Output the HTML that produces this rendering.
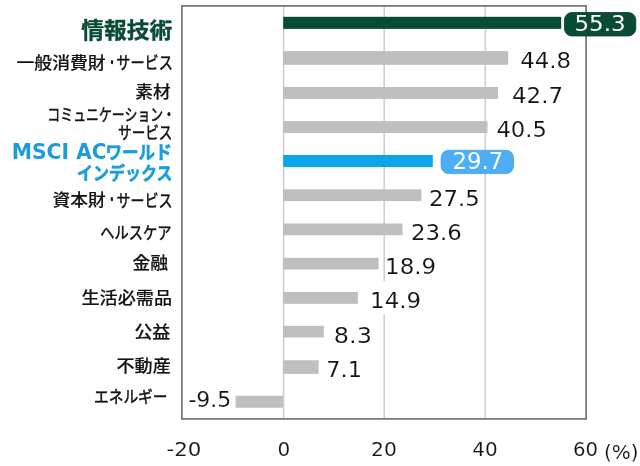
<!DOCTYPE html>
<html lang="ja">
<head>
<meta charset="utf-8">
<title>セクター別リターン</title>
<style>
html,body{margin:0;padding:0;background:#fff;}
body{width:640px;height:466px;overflow:hidden;}
svg{display:block;}
text{white-space:pre;}
</style>
</head>
<body>
<svg width="640" height="466" viewBox="0 0 640 466">
<rect x="0" y="0" width="640" height="466" fill="#ffffff"/>
<rect x="282.80" y="6" width="1.6" height="413" fill="#cfcfcf"/>
<rect x="383.40" y="6" width="1.6" height="413" fill="#cfcfcf"/>
<rect x="484.50" y="6" width="1.6" height="413" fill="#cfcfcf"/>
<rect x="283.20" y="16.80" width="278.00" height="12.10" fill="#0a4b38"/>
<rect x="283.20" y="51.10" width="225.00" height="13.70" fill="#bfbfbf"/>
<rect x="283.20" y="87.00" width="214.80" height="11.90" fill="#bfbfbf"/>
<rect x="283.20" y="121.10" width="204.30" height="11.90" fill="#bfbfbf"/>
<rect x="283.20" y="155.00" width="149.60" height="12.00" fill="#0ba6e8"/>
<rect x="283.20" y="189.30" width="138.20" height="11.80" fill="#bfbfbf"/>
<rect x="283.20" y="223.50" width="119.30" height="11.80" fill="#bfbfbf"/>
<rect x="283.20" y="257.80" width="95.40" height="11.70" fill="#bfbfbf"/>
<rect x="283.20" y="292.00" width="74.70" height="11.80" fill="#bfbfbf"/>
<rect x="283.20" y="325.80" width="40.60" height="11.70" fill="#bfbfbf"/>
<rect x="283.20" y="360.30" width="35.40" height="13.60" fill="#bfbfbf"/>
<rect x="235.50" y="395.70" width="47.50" height="12.00" fill="#bfbfbf"/>
<rect x="181.9" y="5.9" width="404.2" height="413.0" fill="none" stroke="#7a7a7a" stroke-width="1.8"/>
<rect x="367" y="281" width="58" height="33.6" fill="#ffffff"/>
<rect x="564.4" y="12.5" width="71.4" height="23.5" rx="7.5" ry="7.5" fill="#0a4b38" stroke="#083f2f" stroke-width="0.8"/>
<rect x="441.1" y="150.3" width="72.4" height="23.3" rx="7.5" ry="7.5" fill="#4dadf5" stroke="#3f9fe8" stroke-width="0.8"/>
<text x="81.19" y="37.78" font-family='"Liberation Sans", "Noto Sans CJK JP", sans-serif' font-size="21.6" font-weight="700" fill="#0a4b38" stroke="#0a4b38" stroke-width="0.4" stroke-linejoin="round" textLength="91.07" lengthAdjust="spacingAndGlyphs">情報技術</text>
<text><tspan x="16.49" y="68.75" font-family='"Liberation Sans", "Noto Sans CJK JP", sans-serif' font-size="17.0" font-weight="500" fill="#141414" stroke="#141414" stroke-width="0.15" stroke-linejoin="round" textLength="89.17" lengthAdjust="spacingAndGlyphs">一般消費財</tspan><tspan x="107.09" y="68.75" font-family='"Liberation Sans", "Noto Sans CJK JP", sans-serif' font-size="17.0" font-weight="400" fill="#141414" stroke="#141414" stroke-width="0.7" stroke-linejoin="round" textLength="10.05" lengthAdjust="spacingAndGlyphs">・</tspan><tspan x="116.22" y="68.75" font-family='"Liberation Sans", "Noto Sans CJK JP", sans-serif' font-size="16.7" font-weight="400" fill="#141414" stroke="#141414" stroke-width="0.5" stroke-linejoin="round" textLength="56.64" lengthAdjust="spacingAndGlyphs">サービス</tspan></text>
<text x="135.23" y="97.77" font-family='"Liberation Sans", "Noto Sans CJK JP", sans-serif' font-size="17.0" font-weight="500" fill="#141414" stroke="#141414" stroke-width="0.15" stroke-linejoin="round" textLength="35.40" lengthAdjust="spacingAndGlyphs">素材</text>
<text><tspan x="47.31" y="120.68" font-family='"Liberation Sans", "Noto Sans CJK JP", sans-serif' font-size="16.7" font-weight="400" fill="#141414" stroke="#141414" stroke-width="0.5" stroke-linejoin="round" textLength="115.97" lengthAdjust="spacingAndGlyphs">コミュニケーション</tspan><tspan x="163.04" y="121.25" font-family='"Liberation Sans", "Noto Sans CJK JP", sans-serif' font-size="17.0" font-weight="400" fill="#141414" stroke="#141414" stroke-width="0.7" stroke-linejoin="round" textLength="11.93" lengthAdjust="spacingAndGlyphs">・</tspan><tspan x="118.12" y="138.60" font-family='"Liberation Sans", "Noto Sans CJK JP", sans-serif' font-size="16.7" font-weight="400" fill="#141414" stroke="#141414" stroke-width="0.5" stroke-linejoin="round" textLength="54.33" lengthAdjust="spacingAndGlyphs">サービス</tspan></text>
<text><tspan x="11.67" y="158.80" font-family='"DejaVu Sans", "Liberation Sans", sans-serif' font-size="20.5" font-weight="700" fill="#1c9dd9" textLength="57.49" lengthAdjust="spacingAndGlyphs">MSCI</tspan> <tspan x="76.35" y="158.80" font-family='"DejaVu Sans", "Liberation Sans", sans-serif' font-size="20.5" font-weight="700" fill="#1c9dd9" textLength="30.22" lengthAdjust="spacingAndGlyphs">AC</tspan><tspan x="105.42" y="158.85" font-family='"Liberation Sans", "Noto Sans CJK JP", sans-serif' font-size="18.4" font-weight="700" fill="#1c9dd9" stroke="#1c9dd9" stroke-width="0.6" stroke-linejoin="round" textLength="66.40" lengthAdjust="spacingAndGlyphs">ワールド</tspan><tspan x="77.08" y="179.90" font-family='"Liberation Sans", "Noto Sans CJK JP", sans-serif' font-size="18.4" font-weight="700" fill="#1c9dd9" stroke="#1c9dd9" stroke-width="0.6" stroke-linejoin="round" textLength="95.40" lengthAdjust="spacingAndGlyphs">インデックス</tspan></text>
<text><tspan x="52.63" y="206.27" font-family='"Liberation Sans", "Noto Sans CJK JP", sans-serif' font-size="17.0" font-weight="500" fill="#141414" stroke="#141414" stroke-width="0.15" stroke-linejoin="round" textLength="52.99" lengthAdjust="spacingAndGlyphs">資本財</tspan><tspan x="106.99" y="206.40" font-family='"Liberation Sans", "Noto Sans CJK JP", sans-serif' font-size="17.0" font-weight="400" fill="#141414" stroke="#141414" stroke-width="0.7" stroke-linejoin="round" textLength="9.82" lengthAdjust="spacingAndGlyphs">・</tspan><tspan x="116.57" y="206.65" font-family='"Liberation Sans", "Noto Sans CJK JP", sans-serif' font-size="16.7" font-weight="400" fill="#141414" stroke="#141414" stroke-width="0.5" stroke-linejoin="round" textLength="55.97" lengthAdjust="spacingAndGlyphs">サービス</tspan></text>
<text x="100.13" y="239.40" font-family='"Liberation Sans", "Noto Sans CJK JP", sans-serif' font-size="16.7" font-weight="400" fill="#141414" stroke="#141414" stroke-width="0.5" stroke-linejoin="round" textLength="71.30" lengthAdjust="spacingAndGlyphs">ヘルスケア</text>
<text x="132.48" y="268.75" font-family='"Liberation Sans", "Noto Sans CJK JP", sans-serif' font-size="17.0" font-weight="500" fill="#141414" stroke="#141414" stroke-width="0.15" stroke-linejoin="round" textLength="35.64" lengthAdjust="spacingAndGlyphs">金融</text>
<text x="81.48" y="303.75" font-family='"Liberation Sans", "Noto Sans CJK JP", sans-serif' font-size="17.0" font-weight="500" fill="#141414" stroke="#141414" stroke-width="0.15" stroke-linejoin="round" textLength="90.55" lengthAdjust="spacingAndGlyphs">生活必需品</text>
<text x="134.22" y="337.62" font-family='"Liberation Sans", "Noto Sans CJK JP", sans-serif' font-size="17.0" font-weight="500" fill="#141414" stroke="#141414" stroke-width="0.15" stroke-linejoin="round" textLength="36.05" lengthAdjust="spacingAndGlyphs">公益</text>
<text x="116.48" y="371.75" font-family='"Liberation Sans", "Noto Sans CJK JP", sans-serif' font-size="17.0" font-weight="500" fill="#141414" stroke="#141414" stroke-width="0.15" stroke-linejoin="round" textLength="54.29" lengthAdjust="spacingAndGlyphs">不動産</text>
<text x="93.96" y="403.38" font-family='"Liberation Sans", "Noto Sans CJK JP", sans-serif' font-size="16.7" font-weight="400" fill="#141414" stroke="#141414" stroke-width="0.5" stroke-linejoin="round" textLength="73.59" lengthAdjust="spacingAndGlyphs">エネルギー</text>
<text x="574.45" y="30.95" font-family='"DejaVu Sans", "Liberation Sans", sans-serif' font-size="22.0" font-weight="400" fill="#ffffff" textLength="51.15" lengthAdjust="spacingAndGlyphs">55.3</text>
<text x="520.20" y="68.45" font-family='"DejaVu Sans", "Liberation Sans", sans-serif' font-size="20.8" font-weight="400" fill="#141414" stroke="#ffffff" stroke-width="0.12" textLength="50.89" lengthAdjust="spacingAndGlyphs">44.8</text>
<text x="511.94" y="102.95" font-family='"DejaVu Sans", "Liberation Sans", sans-serif' font-size="20.8" font-weight="400" fill="#141414" stroke="#ffffff" stroke-width="0.12" textLength="51.17" lengthAdjust="spacingAndGlyphs">42.7</text>
<text x="496.44" y="136.75" font-family='"DejaVu Sans", "Liberation Sans", sans-serif' font-size="20.8" font-weight="400" fill="#141414" stroke="#ffffff" stroke-width="0.12" textLength="50.42" lengthAdjust="spacingAndGlyphs">40.5</text>
<text x="452.44" y="168.90" font-family='"DejaVu Sans", "Liberation Sans", sans-serif' font-size="22.2" font-weight="400" fill="#ffffff" textLength="50.73" lengthAdjust="spacingAndGlyphs">29.7</text>
<text x="429.14" y="205.95" font-family='"DejaVu Sans", "Liberation Sans", sans-serif' font-size="20.8" font-weight="400" fill="#141414" stroke="#ffffff" stroke-width="0.12" textLength="50.74" lengthAdjust="spacingAndGlyphs">27.5</text>
<text x="410.91" y="239.50" font-family='"DejaVu Sans", "Liberation Sans", sans-serif' font-size="20.8" font-weight="400" fill="#141414" stroke="#ffffff" stroke-width="0.12" textLength="50.92" lengthAdjust="spacingAndGlyphs">23.6</text>
<text x="385.05" y="274.45" font-family='"DejaVu Sans", "Liberation Sans", sans-serif' font-size="20.8" font-weight="400" fill="#141414" stroke="#ffffff" stroke-width="0.12" textLength="51.08" lengthAdjust="spacingAndGlyphs">18.9</text>
<text x="370.05" y="308.45" font-family='"DejaVu Sans", "Liberation Sans", sans-serif' font-size="20.8" font-weight="400" fill="#141414" stroke="#ffffff" stroke-width="0.12" textLength="51.03" lengthAdjust="spacingAndGlyphs">14.9</text>
<text x="333.84" y="342.90" font-family='"DejaVu Sans", "Liberation Sans", sans-serif' font-size="20.8" font-weight="400" fill="#141414" stroke="#ffffff" stroke-width="0.12" textLength="38.09" lengthAdjust="spacingAndGlyphs">8.3</text>
<text x="326.33" y="377.40" font-family='"DejaVu Sans", "Liberation Sans", sans-serif' font-size="20.8" font-weight="400" fill="#141414" stroke="#ffffff" stroke-width="0.12" textLength="35.62" lengthAdjust="spacingAndGlyphs">7.1</text>
<text x="188.43" y="407.05" font-family='"DejaVu Sans", "Liberation Sans", sans-serif' font-size="20.8" font-weight="400" fill="#141414" stroke="#ffffff" stroke-width="0.12" textLength="42.95" lengthAdjust="spacingAndGlyphs">-9.5</text>
<text x="166.43" y="455.65" font-family='"DejaVu Sans", "Liberation Sans", sans-serif' font-size="19.4" font-weight="400" fill="#141414" stroke="#ffffff" stroke-width="0.12" textLength="34.92" lengthAdjust="spacingAndGlyphs">-20</text>
<text x="277.51" y="455.65" font-family='"DejaVu Sans", "Liberation Sans", sans-serif' font-size="19.4" font-weight="400" fill="#141414" stroke="#ffffff" stroke-width="0.12" textLength="12.73" lengthAdjust="spacingAndGlyphs">0</text>
<text x="371.10" y="455.65" font-family='"DejaVu Sans", "Liberation Sans", sans-serif' font-size="19.4" font-weight="400" fill="#141414" stroke="#ffffff" stroke-width="0.12" textLength="25.80" lengthAdjust="spacingAndGlyphs">20</text>
<text x="472.18" y="455.65" font-family='"DejaVu Sans", "Liberation Sans", sans-serif' font-size="19.4" font-weight="400" fill="#141414" stroke="#ffffff" stroke-width="0.12" textLength="25.44" lengthAdjust="spacingAndGlyphs">40</text>
<text x="573.11" y="455.65" font-family='"DejaVu Sans", "Liberation Sans", sans-serif' font-size="19.4" font-weight="400" fill="#141414" stroke="#ffffff" stroke-width="0.12" textLength="25.00" lengthAdjust="spacingAndGlyphs">60</text>
<text x="604.08" y="458.87" font-family='"DejaVu Sans", "Liberation Sans", sans-serif' font-size="19.0" font-weight="400" fill="#141414" stroke="#ffffff" stroke-width="0.12" textLength="34.59" lengthAdjust="spacingAndGlyphs">(%)</text>
</svg>
</body>
</html>
